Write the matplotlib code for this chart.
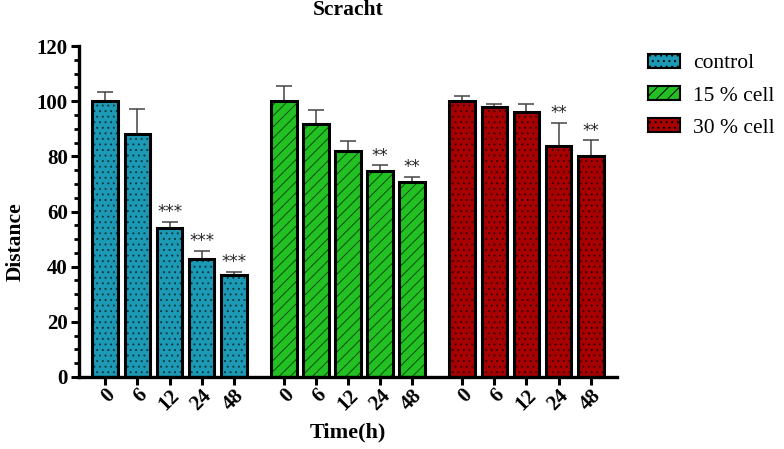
import matplotlib
matplotlib.use("Agg")
import matplotlib.pyplot as plt
import numpy as np
from matplotlib.patches import Patch
from matplotlib.ticker import MultipleLocator

plt.rcParams['font.family'] = ['Liberation Serif', 'DejaVu Serif']
plt.rcParams['hatch.linewidth'] = 0.7

times = ["0", "6", "12", "24", "48"]
groups = ["control", "15 % cell", "30 % cell"]
control_vals = [100.2, 88.0, 54.1, 42.8, 37.1]
control_err = [3.0, 9.0, 2.2, 2.8, 1.0]
cell15_vals = [100.2, 91.6, 82.1, 74.7, 70.7]
cell15_err = [5.4, 5.2, 3.3, 2.0, 1.7]
cell30_vals = [100.2, 97.9, 96.1, 83.6, 80.0]
cell30_err = [1.8, 1.0, 3.0, 8.4, 5.8]
control_sig = ["", "", "***", "***", "***"]
cell15_sig = ["", "", "", "**", "**"]
cell30_sig = ["", "", "", "**", "**"]

values = [control_vals, cell15_vals, cell30_vals]
errors = [control_err, cell15_err, cell30_err]
sigs = [control_sig, cell15_sig, cell30_sig]
colors = ["#1c9ab5", "#22c022", "#a80000"]
hatch_colors = ["#0b3a44", "#0b4d0b", "#3c0000"]
hatches = ["...", "///", "..."]

fig = plt.figure(figsize=(7.84, 4.49), dpi=100)
ax = fig.add_axes([79/784, 1-377/449, (617-79)/784, (377-46)/449])

gap = 0.56
all_pos = []
all_labels = []
for g in range(3):
    pos = np.arange(5) + g * (5 + gap)
    ax.bar(pos, values[g], width=0.8, color=colors[g], edgecolor=hatch_colors[g],
           hatch=hatches[g], linewidth=0, zorder=2)
    ax.bar(pos, values[g], width=0.8, fill=False, edgecolor="black",
           linewidth=2.2, zorder=3)
    ax.errorbar(pos, values[g], yerr=[np.zeros(5), errors[g]], fmt="none",
                ecolor="#444444", elinewidth=1.1, capsize=5.5, capthick=1.1, zorder=1)
    for p, v, e, s in zip(pos, values[g], errors[g], sigs[g]):
        if s:
            ax.text(p, v + e + 0.3, s, ha="center", va="bottom", fontsize=12,
                    color="#222222", family=["DejaVu Sans"])
    all_pos.extend(pos)
    all_labels.extend(times)

ax.set_xlim(-0.82, all_pos[-1] + 0.82)
ax.set_ylim(0, 120)
ax.set_xticks(all_pos)
ax.set_xticklabels(all_labels, rotation=45, ha="right", va="top",
                   rotation_mode="anchor", fontsize=15, fontweight="bold")
ax.yaxis.set_major_locator(MultipleLocator(20))
ax.yaxis.set_minor_locator(MultipleLocator(5))
for lab in ax.get_yticklabels():
    lab.set_fontweight("bold")
    lab.set_fontsize(15)
ax.tick_params(axis="y", which="major", length=6, width=2.2, pad=2)
ax.tick_params(axis="y", which="minor", length=3.5, width=2)
ax.tick_params(axis="x", which="major", length=6, width=2.2, pad=0)
ax.spines["top"].set_visible(False)
ax.spines["right"].set_visible(False)
ax.spines["left"].set_linewidth(2.4)
ax.spines["bottom"].set_linewidth(2.4)

ax.set_title("Scracht", fontsize=15.5, fontweight="bold", pad=22)
ax.set_ylabel("Distance", fontsize=15.5, fontweight="bold")
ax.yaxis.set_label_coords(-0.1, 0.41)
ax.set_xlabel("Time(h)", fontsize=16, fontweight="bold", labelpad=6)

handles = [Patch(facecolor=colors[i], edgecolor="black", hatch=hatches[i], linewidth=1.5)
           for i in range(3)]
fig.legend(handles, groups, loc="upper left", bbox_to_anchor=(648/784, 1-54/449),
           frameon=False, fontsize=15.5, handlelength=1.49, handleheight=0.6,
           labelspacing=0.59, handletextpad=0.6, borderpad=0, borderaxespad=0)

fig.savefig("out.png", dpi=100)
